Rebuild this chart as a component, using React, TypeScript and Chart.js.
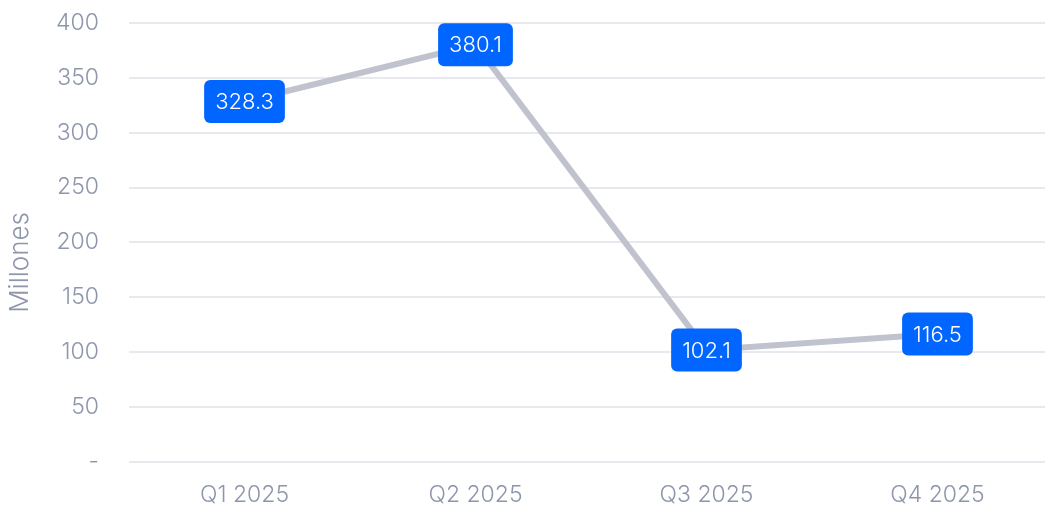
import React, { useEffect, useRef } from "react";
import { Chart, registerables } from "chart.js";

Chart.register(...registerables);

const categories = ["Q1 2025", "Q2 2025", "Q3 2025", "Q4 2025"];
const values = [328.3, 380.1, 102.1, 116.5];
const yTicks = [0, 50, 100, 150, 200, 250, 300, 350, 400];
const yTitle = "Millones";

const FONT = "Inter, 'Noto Sans', sans-serif";
const TICK_COLOR = "#8E96AC";

const labelBoxes = {
  id: "labelBoxes",
  afterDatasetsDraw(chart: any) {
    const ctx = chart.ctx;
    const meta = chart.getDatasetMeta(0);
    const ds = chart.data.datasets[0];
    ctx.save();
    ctx.font = `300 22px ${FONT}`;
    ctx.textAlign = "center";
    ctx.textBaseline = "middle";
    meta.data.forEach((pt: any, i: number) => {
      const txt = Number(ds.data[i]).toFixed(1);
      const w = ctx.measureText(txt).width + 22;
      const h = 43;
      const x = pt.x - w / 2;
      const y = pt.y - h / 2;
      ctx.fillStyle = "#0066FF";
      ctx.beginPath();
      (ctx as any).roundRect(x, y, w, h, 6);
      ctx.fill();
      ctx.fillStyle = "#FFFFFF";
      ctx.fillText(txt, pt.x, pt.y + 1);
    });
    ctx.restore();
  },
};

const sideTitle = {
  id: "sideTitle",
  afterDraw(chart: any) {
    const ctx = chart.ctx;
    const a = chart.chartArea;
    ctx.save();
    ctx.font = `300 26px ${FONT}`;
    ctx.fillStyle = TICK_COLOR;
    ctx.textAlign = "center";
    ctx.textBaseline = "middle";
    ctx.translate(20, (a.top + a.bottom) / 2 + 20);
    ctx.rotate(-Math.PI / 2);
    ctx.fillText(yTitle, 0, 0);
    ctx.restore();
  },
};

export default function App() {
  const ref = useRef<HTMLCanvasElement>(null);
  useEffect(() => {
    if (!ref.current) return;
    const chart = new Chart(ref.current, {
      type: "line",
      data: {
        labels: categories,
        datasets: [
          {
            data: values,
            borderColor: "#C0C2CD",
            borderWidth: 6,
            pointRadius: 0,
            tension: 0,
            fill: false,
          },
        ],
      },
      options: {
        responsive: false,
        animation: false,
        layout: { padding: { top: 1, left: 0, right: 0, bottom: 0 } },
        plugins: { legend: { display: false }, tooltip: { enabled: false } },
        scales: {
          x: {
            offset: true,
            grid: { display: false, drawTicks: false },
            border: { display: false },
            ticks: {
              color: TICK_COLOR,
              font: { family: FONT, size: 23, weight: 300 },
              padding: 19,
            },
            afterFit: (s: any) => {
              s.height = 47;
            },
          },
          y: {
            min: 0,
            max: 400,
            afterBuildTicks: (s: any) => {
              s.ticks = yTicks.map((v) => ({ value: v }));
            },
            grid: { color: "#E8E9EE", lineWidth: 2, drawTicks: false },
            border: { display: false },
            ticks: {
              color: TICK_COLOR,
              font: { family: FONT, size: 23, weight: 300 },
              padding: 30,
              callback: (v: any) => (Number(v) === 0 ? "-" : String(v)),
            },
            title: { display: false },
            afterFit: (s: any) => {
              s.width = 129;
            },
          },
        },
      },
      plugins: [labelBoxes, sideTitle],
    });
    return () => chart.destroy();
  }, []);
  return (
    <div style={{ position: "fixed", left: 0, top: 0, width: "100vw", height: "100vh", overflow: "hidden", background: "#fff" }}>
      <canvas ref={ref} width={1053} height={530} style={{ display: "block", marginTop: -21 }} />
    </div>
  );
}
